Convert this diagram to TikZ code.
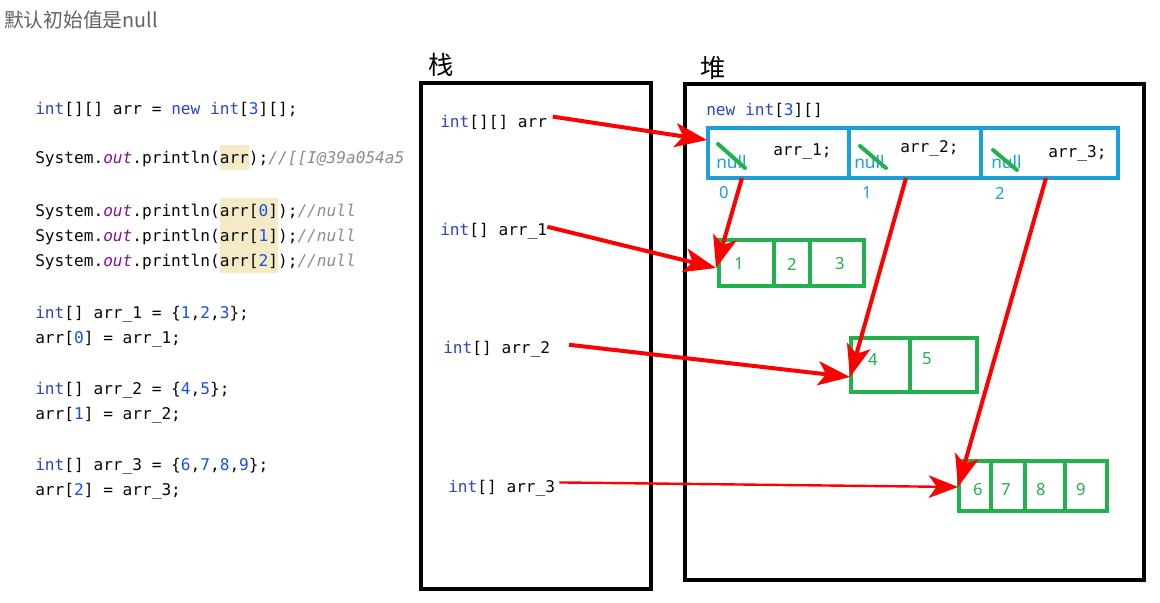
\documentclass[tikz,border=0pt]{standalone}
\usepackage{fontspec}
\setmonofont{DejaVu Sans Mono}
\setsansfont{Noto Sans}
\newfontfamily\cjk{Noto Sans CJK SC}
\usetikzlibrary{arrows.meta,positioning,fit}
\definecolor{codeink}{HTML}{080808}
\definecolor{kwblue}{HTML}{2D43C8}
\definecolor{numblue}{HTML}{1750EB}
\definecolor{fldpurple}{HTML}{871094}
\definecolor{cmtgray}{HTML}{8C8C8C}
\definecolor{hlbg}{HTML}{F5EAC6}
\definecolor{titlegray}{HTML}{606266}
\definecolor{cellblue}{HTML}{1AA0DC}
\definecolor{cellgreen}{HTML}{22B14C}
\definecolor{ptrred}{HTML}{FF0000}
\newcommand{\codefont}{\fontsize{12.1pt}{14pt}\selectfont\ttfamily}
\newcommand{\kw}[1]{\textcolor{kwblue}{#1}}
\newcommand{\nm}[1]{\textcolor{numblue}{#1}}
\newcommand{\fld}[1]{\textcolor{fldpurple}{\itshape #1}}
\newcommand{\cmt}[1]{\textcolor{cmtgray}{\itshape #1}}
\newcommand{\hl}[1]{{\setlength{\fboxsep}{0pt}\colorbox{hlbg}{\rule[-5pt]{0pt}{18.5pt}#1}}}
\tikzset{
  code/.style={anchor=base west,inner sep=0pt,font=\codefont,text=codeink},
  memframe/.style={draw=black,line width=3pt,inner sep=0pt},
  memlabel/.style={font=\cjk\fontsize{19pt}{22pt}\selectfont,inner sep=0pt},
  bluecell/.style={draw=cellblue,line width=3pt,inner sep=0pt},
  greencell/.style={draw=cellgreen,line width=2.6pt,inner sep=0pt},
  nullval/.style={font=\sffamily\fontsize{13pt}{15pt}\selectfont,text=cellblue,inner sep=0pt},
  idxval/.style={font=\sffamily\fontsize{12.5pt}{15pt}\selectfont,text=cellblue,inner sep=0pt},
  elemval/.style={font=\sffamily\fontsize{12.5pt}{15pt}\selectfont,text=cellgreen,inner sep=0pt},
  strike/.style={draw=cellgreen,line width=3pt,line cap=round},
  ptr/.style={-{Stealth[length=24pt,width=18pt,inset=6pt]},draw=ptrred,fill=ptrred,line width=3pt},
  thinptr/.style={-{Stealth[length=22pt,width=17pt,inset=6pt]},draw=ptrred,fill=ptrred,line width=1.8pt}
}
\begin{document}
\begin{tikzpicture}[x=0.75pt,y=-0.75pt]
  \fill[white] (0,0) rectangle (1160,603);
  \useasboundingbox (0,0) rectangle (1160,603);
  % title
  \node[anchor=west,inner sep=0pt,text=titlegray,font=\cjk\fontsize{14.8pt}{17pt}\selectfont] (title) at (4,20) {默认初始值是null};
  % source code
  \node[code] (l1) at (35,114) {\kw{int}[][] arr = \kw{new} \kw{int}[\nm{3}][];};
  \node[code] (l2) at (35,163) {System.\fld{out}.println(\hl{arr});\cmt{//[[I@39a054a5}};
  \node[code] (l3) at (35,216) {System.\fld{out}.println(\hl{arr[\nm{0}]});\cmt{//null}};
  \node[code] (l4) at (35,241) {System.\fld{out}.println(\hl{arr[\nm{1}]});\cmt{//null}};
  \node[code] (l5) at (35,266) {System.\fld{out}.println(\hl{arr[\nm{2}]});\cmt{//null}};
  \node[code] (l6) at (35,318) {\kw{int}[] arr\_1 = \{\nm{1},\nm{2},\nm{3}\};};
  \node[code] (l7) at (35,343) {arr[\nm{0}] = arr\_1;};
  \node[code] (l8) at (35,394) {\kw{int}[] arr\_2 = \{\nm{4},\nm{5}\};};
  \node[code] (l9) at (35,419) {arr[\nm{1}] = arr\_2;};
  \node[code] (l10) at (35,470) {\kw{int}[] arr\_3 = \{\nm{6},\nm{7},\nm{8},\nm{9}\};};
  \node[code] (l11) at (35,495) {arr[\nm{2}] = arr\_3;};
  % stack
  \node[memlabel] (stacklbl) at (441,65) {栈};
  \node[memframe,fit={(421,83) (651,589)}] (stack) {};
  \node[code] (sarr) at (440,127) {\kw{int}[][] arr};
  \node[code] (sarr1) at (440,235) {\kw{int}[] arr\_1};
  \node[code] (sarr2) at (443,353) {\kw{int}[] arr\_2};
  \node[code] (sarr3) at (448,492) {\kw{int}[] arr\_3};
  % heap
  \node[memlabel] (heaplbl) at (713,68) {堆};
  \node[memframe,fit={(685,84) (1144,580)}] (heap) {};
  \node[code] (newarr) at (706,115) {\kw{new} \kw{int}[\nm{3}][]};
  \node[bluecell,fit={(708,128) (849,178)}] (c0) {};
  \node[bluecell,fit={(849,128) (981,178)}] (c1) {};
  \node[bluecell,fit={(981,128) (1118,178)}] (c2) {};
  \node[nullval,anchor=west] (n0) at (716,162) {null};
  \node[nullval,anchor=west] (n1) at (854,162) {null};
  \node[nullval,anchor=west] (n2) at (991,162) {null};
  \draw[strike] (718,144) -- (745,168);
  \draw[strike] (860,146) -- (886,168);
  \draw[strike] (993,150) -- (1017,170);
  \node[code] (r0) at (773,155) {arr\_1;};
  \node[code] (r1) at (900,152) {arr\_2;};
  \node[code] (r2) at (1048,157) {arr\_3;};
  \node[idxval] (i0) at (724,193) {0};
  \node[idxval] (i1) at (867,193) {1};
  \node[idxval] (i2) at (1000,193) {2};
  % int arrays
  \node[greencell,fit={(719,240) (774,286)}] (a10) {};
  \node[greencell,fit={(774,240) (810,286)}] (a11) {};
  \node[greencell,fit={(810,240) (864,286)}] (a12) {};
  \node[elemval] (e1) at (739,264) {1};
  \node[elemval] (e2) at (792,264) {2};
  \node[elemval] (e3) at (840,264) {3};
  \node[greencell,fit={(851,338) (910,392)}] (a20) {};
  \node[greencell,fit={(910,338) (977,392)}] (a21) {};
  \node[elemval] (e4) at (873,360) {4};
  \node[elemval] (e5) at (927,359) {5};
  \node[greencell,fit={(959,461) (991,511)}] (a30) {};
  \node[greencell,fit={(991,461) (1025,511)}] (a31) {};
  \node[greencell,fit={(1025,461) (1065,511)}] (a32) {};
  \node[greencell,fit={(1065,461) (1107,511)}] (a33) {};
  \node[elemval] (e6) at (978,490) {6};
  \node[elemval] (e7) at (1006,490) {7};
  \node[elemval] (e8) at (1041,490) {8};
  \node[elemval] (e9) at (1081,490) {9};
  % references
  \coordinate (into) at (707,140);
  \coordinate (to1) at (716,268);
  \coordinate (to2) at (850,377);
  \coordinate (to3) at (958,487);
  \coordinate (from0) at (742,178);
  \coordinate (from1) at (906,178);
  \coordinate (from2) at (1046,178);
  \draw[ptr] ([xshift=4pt,yshift=4pt]sarr.east) -- (into);
  \draw[ptr] ([yshift=3pt]sarr1.east) -- (to1);
  \draw[ptr] ([xshift=14pt,yshift=3pt]sarr2.east) -- (to2);
  \draw[thinptr] ([xshift=3pt,yshift=4pt]sarr3.east) -- (to3);
  \draw[ptr] (from0) -- (to1);
  \draw[ptr] (from1) -- (to2);
  \draw[ptr] (from2) -- (to3);
\end{tikzpicture}
\end{document}
